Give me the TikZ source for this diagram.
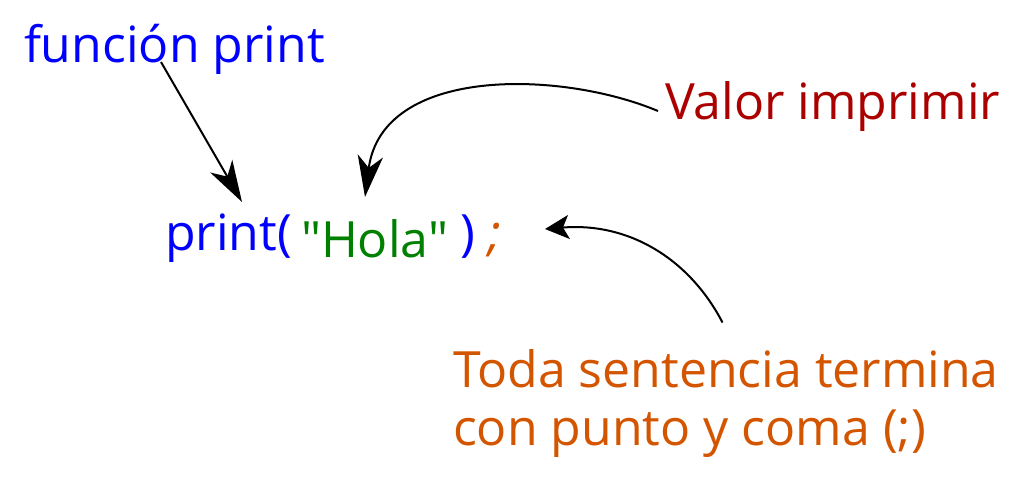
\documentclass[tikz,border=0pt]{standalone}
\usepackage{fontspec}
\setmainfont{Open Sans}
\newfontfamily\plainquotes{Open Sans}[Ligatures=TeXOff]
\usetikzlibrary{arrows.meta}
\definecolor{cblue}{HTML}{0000FF}
\definecolor{cgreen}{HTML}{008000}
\definecolor{cred}{HTML}{AA0000}
\definecolor{corange}{HTML}{D45500}
\begin{document}
\begin{tikzpicture}[x=0.75pt,y=-0.75pt,
  txt/.style={inner sep=0pt,outer sep=0pt,anchor=base west,font=\fontsize{37.5}{45}\selectfont},
  conn/.style={line width=1.5pt,draw=black},
  bighead/.style={-{Stealth[length=31pt,width=19pt,inset=9pt]}},
  smallhead/.style={-{Stealth[length=18pt,width=18pt,inset=4.5pt]}}]
\useasboundingbox (0,0) rectangle (1024,482);
\fill[white] (0,0) rectangle (1024,482);
% texts
\node[txt,text=cblue] (fn) at (24,62) {función print};
\node[txt,text=cred] (val) at (665,119) {Valor imprimir};
\node[txt,text=cblue] (pr) at (165,250) {print(};
\node[txt,text=cgreen,font=\plainquotes\fontsize{37.5}{45}\selectfont] (hola) at (301,257) {"Hola"};
\node[txt,text=cblue] (cp) at (460,250) {)};
\node[txt,text=corange,font=\fontsize{37.5}{45}\selectfont\itshape] (sc) at (488,250) {;};
\node[txt,text=corange] (toda1) at (453,387) {Toda sentencia termina};
\node[txt,text=corange] (toda2) at (453,445) {con punto y coma (;)};
% connector end points
\coordinate (a1s) at (161,62);
\coordinate (a1t) at (242,202);
\coordinate (a2s) at (658,111);
\coordinate (a2t) at (365,197);
\coordinate (a3s) at (722.5,322.5);
\coordinate (a3t) at (545,229);
% connectors
\draw[conn,bighead] (a1s) -- (a1t);
\draw[conn,bighead] (a2s) .. controls (560,70) and (382,66) .. (a2t);
\draw[conn,smallhead] (a3s) .. controls (690,260) and (630,222) .. (a3t);
\end{tikzpicture}
\end{document}
